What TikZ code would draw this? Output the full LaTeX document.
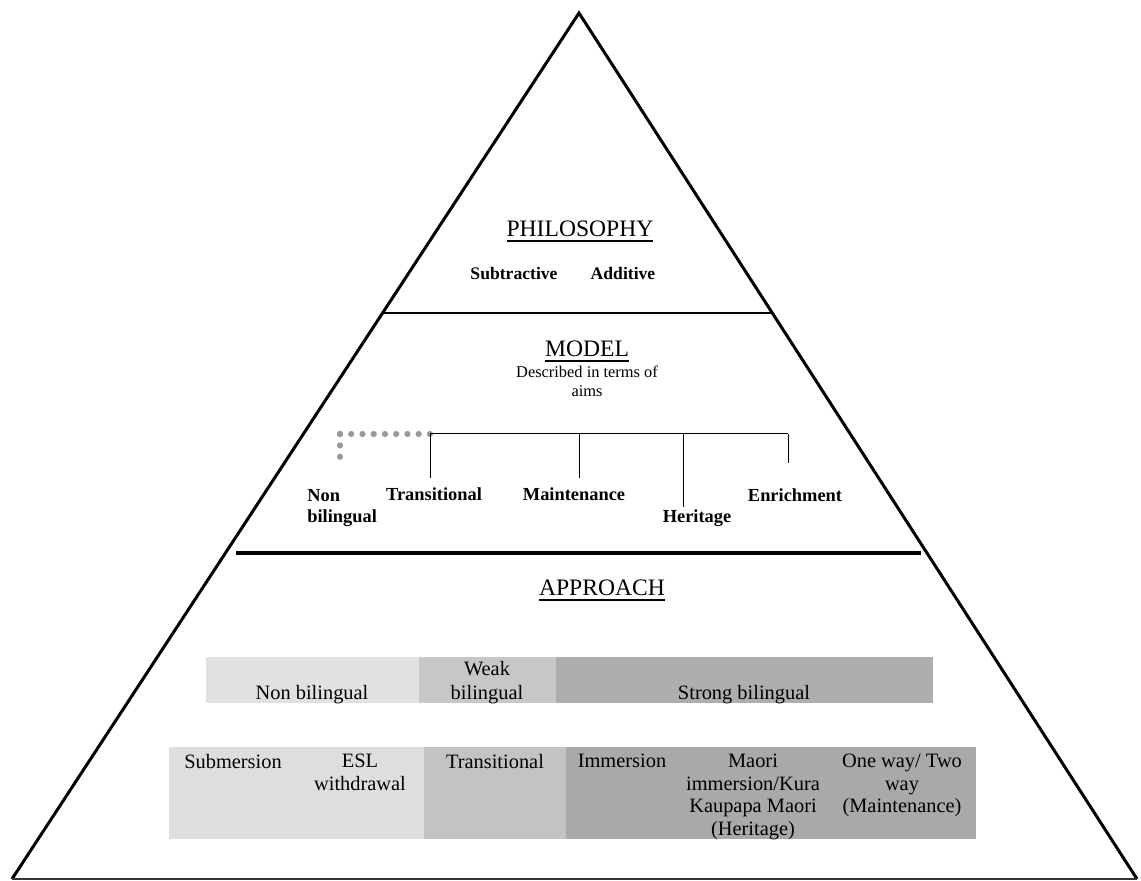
\documentclass[tikz,border=0pt]{standalone}
\usepackage{fontspec}
\setmainfont{Liberation Serif}
\usepackage{tikz}
\definecolor{lightband}{HTML}{E1E1E1}
\definecolor{midband}{HTML}{C7C7C7}
\definecolor{darkband}{HTML}{AEAEAE}
\definecolor{lightcell}{HTML}{DEDEDE}
\definecolor{midcell}{HTML}{C3C3C3}
\definecolor{darkcell}{HTML}{A9A9A9}
\newcommand{\heading}[1]{\setbox0\hbox{#1}\rlap{\rule[-2.3pt]{\wd0}{0.9pt}}\box0}
\tikzstyle{side} = [line width=1.5pt, line join=miter]
\tikzstyle{base} = [line width=0.8pt, draw=black!80]
\tikzstyle{split} = [line width=1.3pt]
\tikzstyle{splitb} = [line width=2pt]
\tikzstyle{branch} = [line width=0.5pt]
\tikzstyle{dots} = [draw=gray!80, line width=3.1pt, line cap=round, dash pattern=on 0pt off 5.62pt]
\tikzstyle{vdots} = [draw=gray!80, line width=3.1pt, line cap=round, dash pattern=on 0pt off 5.7pt]
\tikzstyle{head} = [font=\fontsize{11.8}{13}\selectfont, inner sep=0pt, anchor=base]
\tikzstyle{phil} = [font=\bfseries\fontsize{8.8}{10}\selectfont, inner sep=0pt, anchor=base]
\tikzstyle{aim} = [font=\bfseries\fontsize{9.2}{10.5}\selectfont, inner sep=0pt, anchor=base]
\tikzstyle{note} = [font=\fontsize{8.2}{9.5}\selectfont, align=center, inner sep=0pt, anchor=north]
\tikzstyle{band} = [font=\fontsize{10.2}{11.8}\selectfont, align=center, inner sep=0pt]
\tikzstyle{cell} = [font=\fontsize{10.2}{11.35}\selectfont, align=center, inner sep=0pt, anchor=north]

\begin{document}
\begin{tikzpicture}[x=0.5pt, y=-0.5pt]
\useasboundingbox (0,0) rectangle (1141,881);

\coordinate (apex) at (579,13);
\coordinate (bl) at (12,879);
\coordinate (br) at (1137,879);

\draw [side] (bl) -- (apex) -- (br);
\draw [base] (bl) -- (br);
\draw [split] (383,313) -- (772,313);
\draw [splitb] (236,553) -- (921,553);

\node (philo) [head] at (580,237) {\heading{PHILOSOPHY}};
\node (sub) [phil] at (514,280) {Subtractive};
\node (add) [phil] at (623,280) {Additive};

\node (model) [head] at (587,357) {\heading{MODEL}};
\node (aims) [note] at (587,366) {Described in terms of\\aims};

\coordinate (jN) at (340,434);
\coordinate (jT) at (430,434);
\coordinate (jM) at (579,434);
\coordinate (jH) at (683,434);
\coordinate (jE) at (788,434);
\coordinate (eN) at (340,457);
\coordinate (eT) at (430,478);
\coordinate (eM) at (579,478);
\coordinate (eH) at (683,507);
\coordinate (eE) at (788,463);

\draw [vdots] (jN) -- (eN);
\draw [dots] (jN) -- (jT);
\draw [branch] (jT) -- (jE);
\draw [branch] (jT) -- (eT);
\draw [branch] (jM) -- (eM);
\draw [branch] (jH) -- (eH);
\draw [branch] (jE) -- (eE);

\node (nonbi) [aim, anchor=north west, align=left, font=\bfseries\fontsize{9.2}{10.5}\selectfont] at (307,489) {Non\\bilingual};
\node (trans) [aim] at (434,501) {Transitional};
\node (maint) [aim] at (574,501) {Maintenance};
\node (herit) [aim] at (697,523) {Heritage};
\node (enrich) [aim] at (795,502) {Enrichment};

\node (approach) [head] at (602,596) {\heading{APPROACH}};

\fill [lightband] (206,657) rectangle (419,703);
\fill [midband] (419,657) rectangle (556,703);
\fill [darkband] (556,657) rectangle (933,703);
\node (nbband) [band, anchor=base] at (312,700) {Non bilingual};
\node (wkband) [band, anchor=south] at (487,704.4) {Weak\\bilingual};
\node (stband) [band, anchor=base] at (744,700) {Strong bilingual};

\fill [lightcell] (169,747) rectangle (424,839);
\fill [midcell] (424,747) rectangle (566,839);
\fill [darkcell] (566,747) rectangle (976,839);
\node (subm) [cell] at (233,753.5) {Submersion};
\node (esl) [cell] at (360,753.5) {ESL\\withdrawal};
\node (transc) [cell] at (495,753.5) {Transitional};
\node (imm) [cell] at (622,753.5) {Immersion};
\node (maori) [cell] at (753,753.5) {Maori\\immersion/Kura\\Kaupapa Maori\\(Heritage)};
\node (oneway) [cell] at (902,753.5) {One way/ Two\\way\\(Maintenance)};

\end{tikzpicture}
\end{document}
